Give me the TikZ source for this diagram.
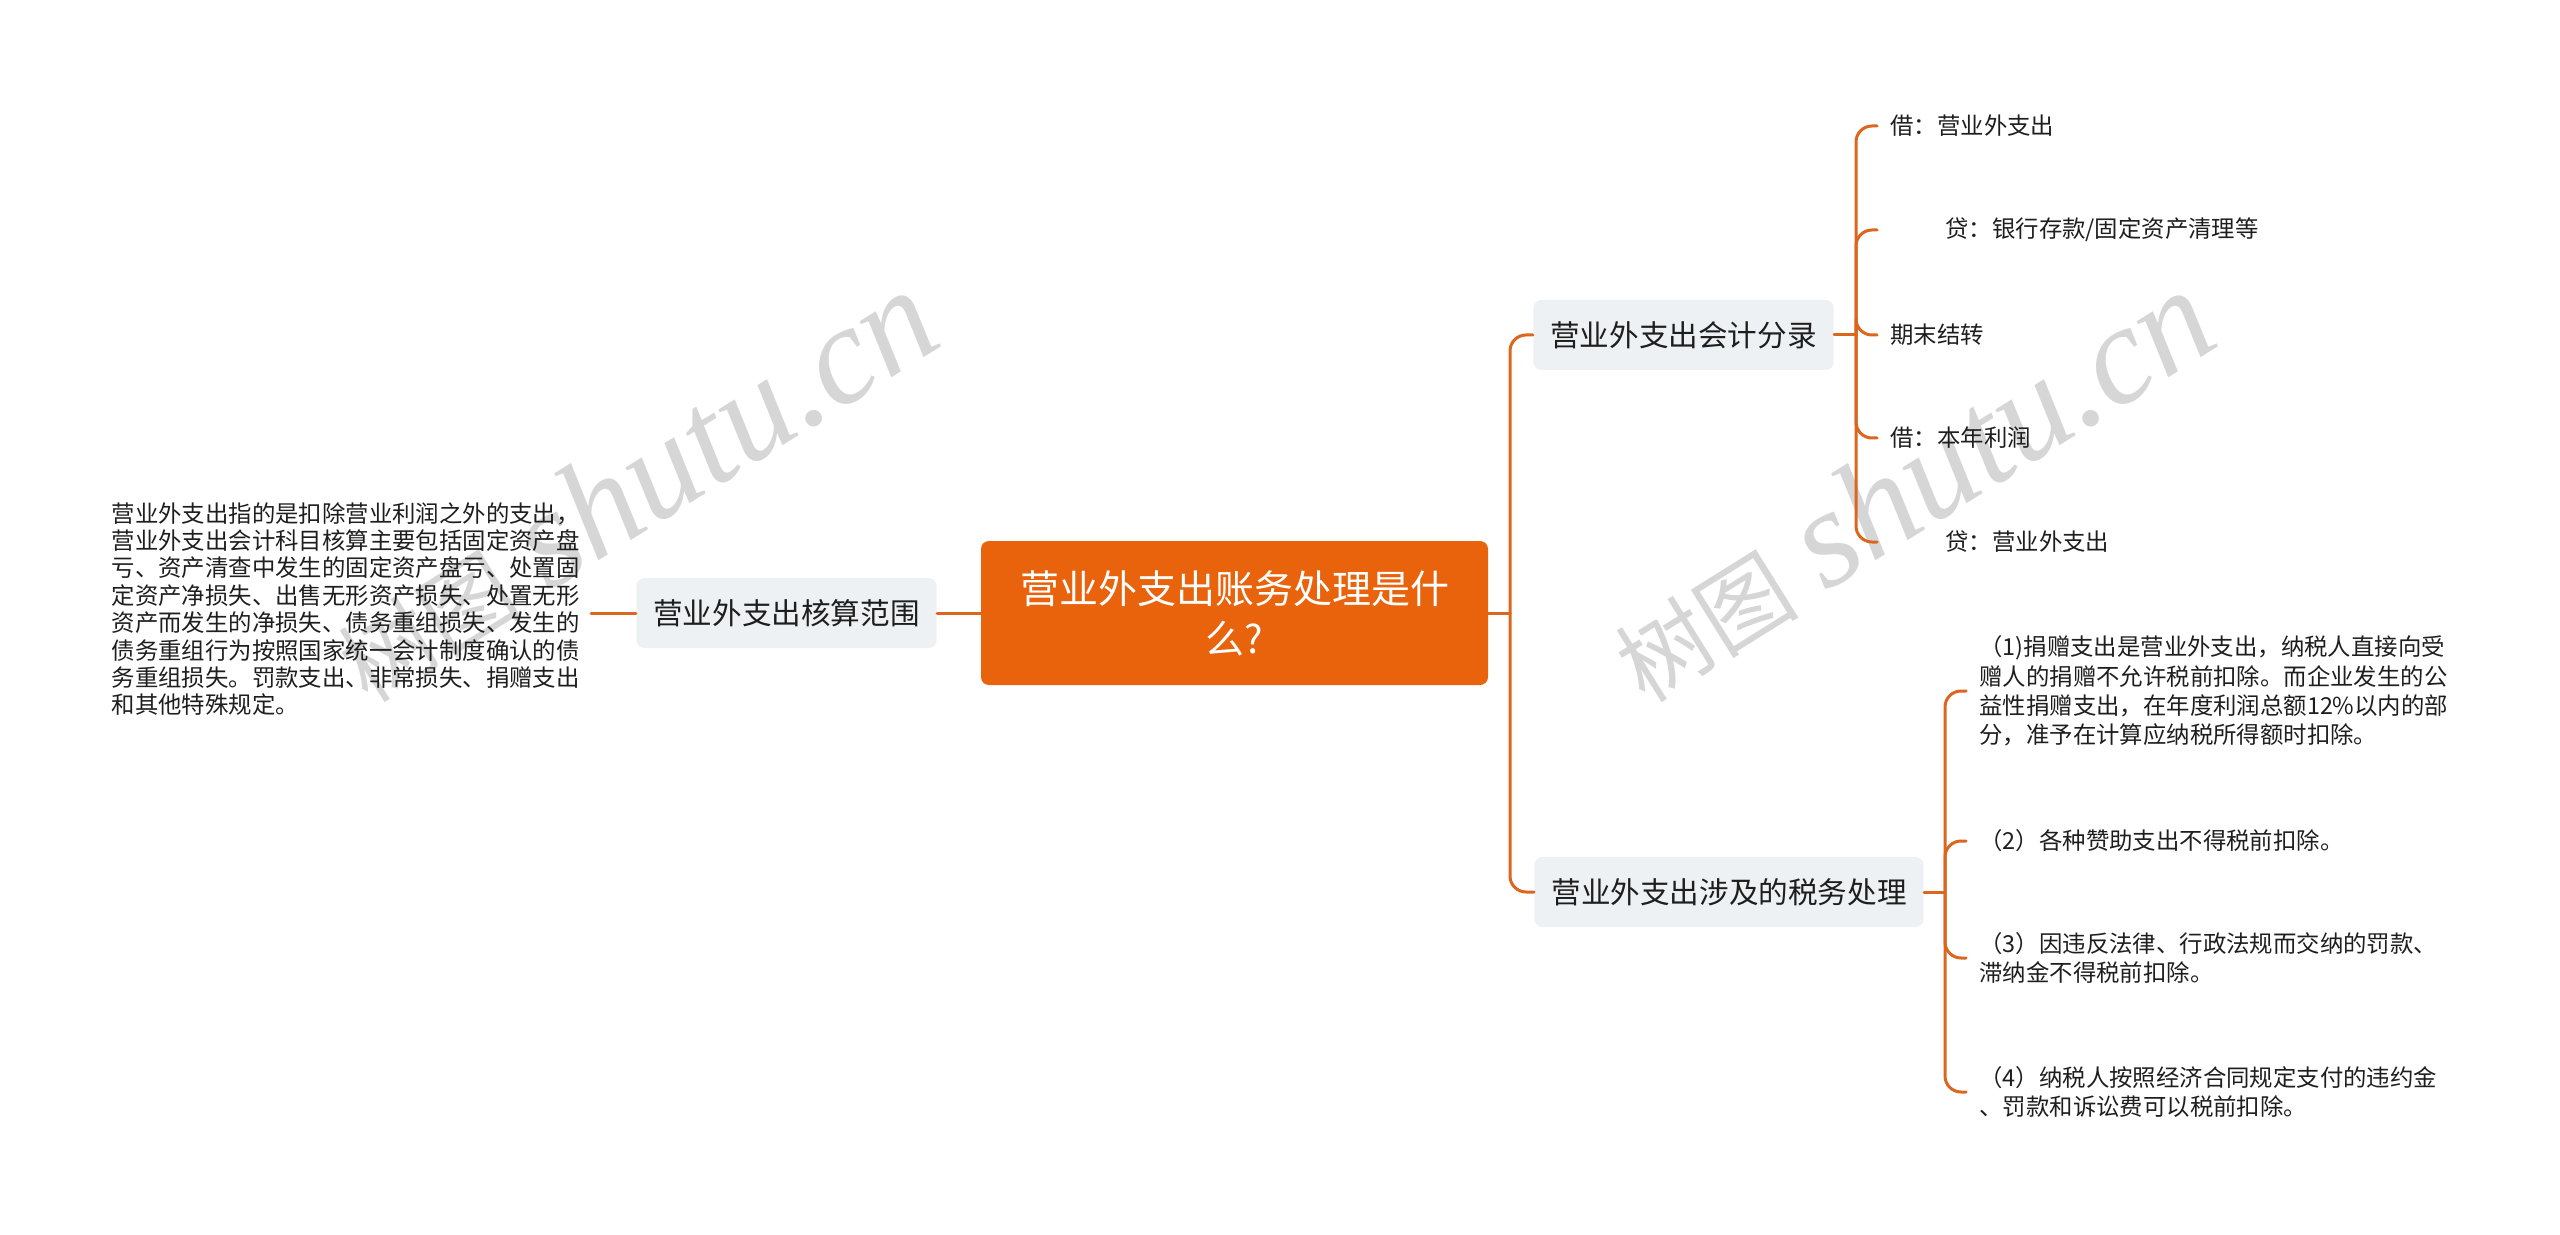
\documentclass[tikz,border=0pt]{standalone}
\usepackage{fontspec}
\setmainfont{Noto Sans CJK SC}
\newfontfamily\wmfont{Liberation Serif}
\definecolor{cam}{HTML}{E9620C}
\definecolor{duong}{HTML}{DB661E}
\definecolor{xam}{HTML}{EEF1F4}
\definecolor{chu}{HTML}{1E1E1E}
\definecolor{mo}{HTML}{D6D6D6}
\tikzset{
	goc/.style={fill=cam, text=white, rounded corners=4pt, minimum width=253.5pt, minimum height=72pt, inner sep=0pt, align=center, font=\fontsize{19.5}{25}\selectfont},
	nhanh/.style={fill=xam, text=chu, rounded corners=4pt, minimum height=35pt, inner xsep=8.5pt, font=\fontsize{14.8}{18}\selectfont},
	la/.style={text=chu, anchor=west, inner xsep=6.5pt, inner ysep=0pt, align=left, font=\fontsize{11.7}{14.7}\selectfont},
	noi/.style={draw=duong, line width=1.5pt, rounded corners=8pt},
	vet/.style={text=mo, rotate=32, anchor=base west, inner sep=0pt}
}
\newcommand\vetchu{{\fontsize{46}{46}\selectfont 树图}\hspace{14pt}{\wmfont\itshape\fontsize{70}{70}\selectfont shutu.cn}}
\begin{document}
\begin{tikzpicture}[x=0.5pt, y=-0.5pt, line join=round, line cap=round]
	\useasboundingbox (0,0) rectangle (2560,1235);
	% hình mờ
	\node[vet] (vetA) at (368,705) {\vetchu};
	\node[vet] (vetB) at (1645,705) {\vetchu};
	% nút gốc và nhánh
	\node[goc] (goc) at (1234.5,613) {营业外支出账务处理是什\\么?};
	\node[nhanh] (hs) at (786.5,613) {营业外支出核算范围};
	\node[nhanh] (kt) at (1683.5,335) {营业外支出会计分录};
	\node[nhanh] (thue) at (1729,892) {营业外支出涉及的税务处理};
	\node[la, anchor=east, inner xsep=5.5pt, font=\fontsize{11.7}{13.7}\selectfont] (mota) at (591,609) {营业外支出指的是扣除营业利润之外的支出，\\营业外支出会计科目核算主要包括固定资产盘\\亏、资产清查中发生的固定资产盘亏、处置固\\定资产净损失、出售无形资产损失、处置无形\\资产而发生的净损失、债务重组损失、发生的\\债务重组行为按照国家统一会计制度确认的债\\务重组损失。罚款支出、非常损失、捐赠支出\\和其他特殊规定。};
	% các lá
	\node[la] (k1) at (1877,126) {借：营业外支出};
	\node[la] (k2) at (1877,230) {\hspace*{27.5pt}贷：银行存款/固定资产清理等};
	\node[la] (k3) at (1877,335) {期末结转};
	\node[la] (k4) at (1877,438) {借：本年利润};
	\node[la] (k5) at (1877,542) {\hspace*{27.5pt}贷：营业外支出};
	\node[la] (t1) at (1966,691) {（1)捐赠支出是营业外支出，纳税人直接向受\\赠人的捐赠不允许税前扣除。而企业发生的公\\益性捐赠支出，在年度利润总额12\%以内的部\\分，准予在计算应纳税所得额时扣除。};
	\node[la] (t2) at (1966,841) {（2）各种赞助支出不得税前扣除。};
	\node[la] (t3) at (1966,958) {（3）因违反法律、行政法规而交纳的罚款、\\滞纳金不得税前扣除。};
	\node[la] (t4) at (1966,1092) {（4）纳税人按照经济合同规定支付的违约金\\、罚款和诉讼费可以税前扣除。};
	% điểm rẽ nhánh
	\coordinate (nG) at (1510,613);
	\coordinate (nK) at (1856,335);
	\coordinate (nT) at (1945,892);
	\draw[noi] (goc.west) -- (hs.east);
	\draw[noi] (hs.west) -- (hs.west -| mota.east);
	\draw[noi] (goc.east) -- (nG);
	\foreach \c in {kt,thue} \draw[noi] (nG) |- (\c.west);
	\draw[noi] (kt.east) -- (nK);
	\foreach \c in {k1,k2,k3,k4,k5} \draw[noi] (nK) |- (\c.west);
	\draw[noi] (thue.east) -- (nT);
	\foreach \c in {t1,t2,t3,t4} \draw[noi] (nT) |- (\c.west);
\end{tikzpicture}
\end{document}
